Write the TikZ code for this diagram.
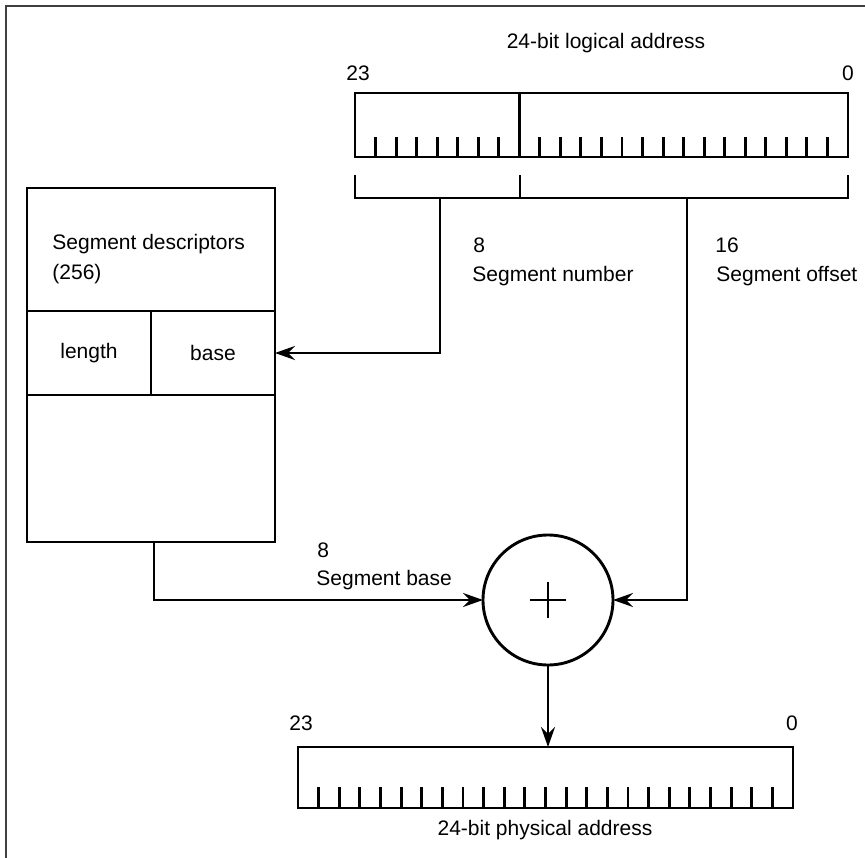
\documentclass[tikz,border=0pt]{standalone}
\usepackage{fontspec}
\setmainfont{Liberation Sans}
\usetikzlibrary{positioning,arrows.meta}

\tikzset{
  reg/.style={draw, rectangle, inner sep=0pt, outer sep=0pt},
  lbl/.style={inner sep=0pt, anchor=west, text height=15pt, text depth=4pt},
  mid/.style={inner sep=0pt, text height=15pt, text depth=4pt},
}

\begin{document}
\begin{tikzpicture}[x=1pt,y=-1pt,line width=2.9pt,>={Stealth[length=20pt,width=14pt,inset=7pt]},font=\fontsize{21}{25}\selectfont]
    \useasboundingbox (0,0) rectangle (865,858);
    \draw[line width=1.6pt, black!75] (6,858) -- (6,6) -- (865,6);

    % logical address register
    \node (logTitle) [mid] at (606,43) {24-bit logical address};
    \node (logHigh) [lbl] at (345,75) {23};
    \node (logLow) [mid] at (848,75) {0};
    \node (logReg) [reg, minimum width=493pt, minimum height=64pt] at (601.5,125) {};
    \foreach \i in {1,...,23}
      \draw ([xshift=\i*20.54pt]logReg.south west) -- ++(0,-20);
    \draw ([xshift=164.3pt]logReg.north west) -- ([xshift=164.3pt]logReg.south west);

    % field bracket
    \coordinate (brLeft) at (355,198);
    \coordinate (brMid) at (520,198);
    \coordinate (brRight) at (848,198);
    \draw (355,175) -- (brLeft) -- (brRight) -- (848,175);
    \draw (brMid) -- (520,175);
    \coordinate (numTap) at (440,198);
    \coordinate (offTap) at (687,198);

    \node (numWidth) [lbl] at (472,247) {8};
    \node (numLabel) [lbl] at (471,276) {Segment number};
    \node (offWidth) [lbl] at (714,247) {16};
    \node (offLabel) [lbl] at (715,276) {Segment offset};

    % descriptor table
    \node (descTable) [reg, minimum width=248pt, minimum height=354pt] at (151,365) {};
    \node (descTitle) [inner sep=0pt, anchor=north west, align=left, font=\fontsize{21}{30}\selectfont] at (51,233) {Segment descriptors\\(256)};
    \node (lenCell) [reg, minimum width=124pt, minimum height=84pt] at (89,353) {length};
    \node (baseCell) [reg, minimum width=124pt, minimum height=84pt] at (213,353) {base};
    \coordinate (descOut) at (154,542);

    % adder
    \node (adder) [draw, circle, minimum size=130pt, inner sep=0pt, outer sep=0pt] at (548,600) {};
    \draw[line width=2.6pt] ([xshift=-18pt]adder.center) -- ([xshift=18pt]adder.center);
    \draw[line width=2.6pt] ([yshift=-18pt]adder.center) -- ([yshift=18pt]adder.center);

    \node (baseWidth) [lbl] at (316,552) {8};
    \node (baseLabel) [lbl] at (315,580) {Segment base};

    % physical address register
    \node (physHigh) [lbl] at (288,725) {23};
    \node (physLow) [mid] at (792,725) {0};
    \node (physReg) [reg, minimum width=495pt, minimum height=61pt] at (545.5,777.5) {};
    \foreach \i in {1,...,23}
      \draw ([xshift=\i*20.625pt]physReg.south west) -- ++(0,-21);
    \node (physTitle) [mid] at (545,830) {24-bit physical address};

    \draw[->] (numTap) |- (baseCell.east);
    \draw[->] (offTap) |- (adder.east);
    \draw[->] (descOut) |- (adder.west);
    \draw[->] (adder.south) -- (adder.south |- physReg.north);
\end{tikzpicture}
\end{document}
